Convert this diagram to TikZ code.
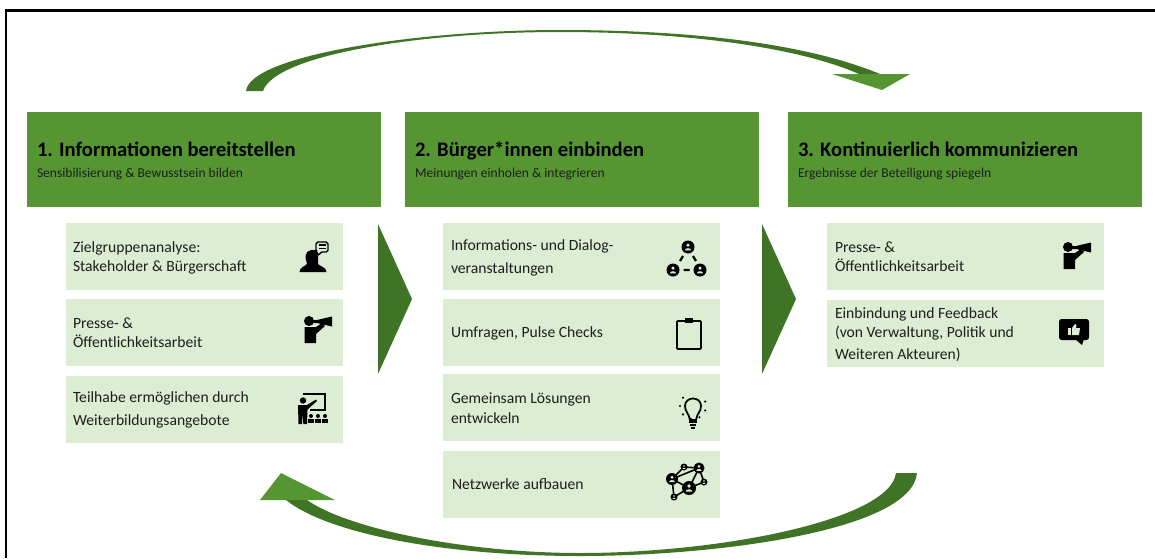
\documentclass[tikz,border=0pt]{standalone}
\usepackage{fontspec}
\setmainfont{Carlito}
\definecolor{headgreen}{HTML}{559632}
\definecolor{darkgreen}{HTML}{3F7326}
\definecolor{lightgreen}{HTML}{DCEDD3}
\definecolor{inktext}{HTML}{1E1E1E}
\tikzset{
  every node/.style={inner sep=0pt,outer sep=0pt},
  headbox/.style={fill=headgreen,minimum width=7.08cm,minimum height=1.9cm,anchor=north west},
  itembox/.style={fill=lightgreen,minimum width=5.54cm,minimum height=1.34cm,anchor=north west},
  headtext/.style={anchor=base west,font=\fontsize{11.75}{14}\selectfont\bfseries,text=black},
  subtext/.style={anchor=base west,font=\fontsize{7.7}{9}\selectfont,text=inktext},
  itemtext/.style={anchor=base west,font=\fontsize{8.9}{10}\selectfont,text=inktext},
  iconline/.style={draw=black,fill=none,line width=0.8pt},
  pics/megaphone/.style={code={
    \fill (0,0) circle (5);
    \fill (-4.5,6) -- (7,6) -- (13,2) -- (16,5) -- (7,13) -- (7,22) -- (-4.5,22) -- cycle;
    \fill (4,-1) -- (8,-1) -- (23,-4.5) -- (23,5.5) -- (8,2) -- (4,2) -- cycle;
  }},
  pics/member/.style={code={
    \fill (0,0) circle (#1);
    \fill[lightgreen] (0,-0.28*#1) circle (0.27*#1);
    \fill[lightgreen] (-0.48*#1,0.5*#1) .. controls (-0.45*#1,0.08*#1) and (0.45*#1,0.08*#1) .. (0.48*#1,0.5*#1) -- cycle;
  }}
}
\begin{document}
\begin{tikzpicture}[x=0.02cm,y=-0.02cm]
\useasboundingbox (0,0) rectangle (1155,558);
\draw[line width=1.5pt] (6,558) -- (6,10.5) -- (1155,10.5);
\node[headbox] (h1) at (27,112) {};
\node[headbox] (h2) at (405,112) {};
\node[headbox] (h3) at (788,112) {};
\node[headtext] (t1) at (37,156.5) {1. Informationen bereitstellen};
\node[headtext] (t2) at (415,156.5) {2. Bürger*innen einbinden};
\node[headtext] (t3) at (798,156.5) {3. Kontinuierlich kommunizieren};
\node[subtext] (s1) at (37,177) {Sensibilisierung \& Bewusstsein bilden};
\node[subtext] (s2) at (415,177) {Meinungen einholen \& integrieren};
\node[subtext] (s3) at (798,177) {Ergebnisse der Beteiligung spiegeln};
\node[itembox] (a1) at (66,223) {};
\node[itembox] (a2) at (66,299) {};
\node[itembox] (a3) at (66,376) {};
\node[itembox] (b1) at (443,223) {};
\node[itembox] (b2) at (443,299) {};
\node[itembox] (b3) at (443,374) {};
\node[itembox] (b4) at (443,451) {};
\node[itembox] (c1) at (827,223) {};
\node[itembox] (c2) at (827,300) {};
\node[itemtext] (a11) at (73,252) {Zielgruppenanalyse:};
\node[itemtext] (a12) at (73,271) {Stakeholder \& Bürgerschaft};
\node[itemtext] (a21) at (73,328) {Presse- \&};
\node[itemtext] (a22) at (73,347) {Öffentlichkeitsarbeit};
\node[itemtext] (a31) at (73,402) {Teilhabe ermöglichen durch};
\node[itemtext] (a32) at (73,425) {Weiterbildungsangebote};
\node[itemtext] (b11) at (451,250) {Informations- und Dialog-};
\node[itemtext] (b12) at (451,273) {veranstaltungen};
\node[itemtext] (b21) at (451,337) {Umfragen, Pulse Checks};
\node[itemtext] (b31) at (451,403) {Gemeinsam Lösungen};
\node[itemtext] (b32) at (451,423) {entwickeln};
\node[itemtext] (b41) at (452,489) {Netzwerke aufbauen};
\node[itemtext] (c11) at (835,252) {Presse- \&};
\node[itemtext] (c12) at (835,271) {Öffentlichkeitsarbeit};
\node[itemtext] (c21) at (835,318) {Einbindung und Feedback};
\node[itemtext] (c22) at (835,337) {(von Verwaltung, Politik und};
\node[itemtext] (c23) at (835,359) {Weiteren Akteuren)};
\fill[darkgreen] (378,224) -- (412,299) -- (378,374) -- cycle;
\fill[darkgreen] (762,224) -- (796,299) -- (762,374) -- cycle;
\coordinate (ta) at (246,91);
\coordinate (tb) at (263,91);
\coordinate (tc) at (880,74);
\coordinate (td) at (859,74);
\fill[darkgreen] (ta) .. controls (250,55) and (420,30) .. (560,30) .. controls (700,30) and (810,45) .. (tc)
  -- (td) .. controls (800,48) and (690,32) .. (560,32) .. controls (420,32) and (275,55) .. (tb) -- cycle;
\fill[headgreen] (832,74) -- (910,74) -- (882,90) -- cycle;
\coordinate (ba) at (917,473);
\coordinate (bb) at (896,473);
\coordinate (bc) at (286,500);
\coordinate (bd) at (307,500);
\fill[darkgreen] (ba) .. controls (912,530) and (720,556) .. (580,556) .. controls (450,556) and (330,535) .. (bc)
  -- (bd) .. controls (350,530) and (470,553) .. (580,553) .. controls (720,553) and (890,520) .. (bb) -- cycle;
\fill[headgreen] (281,473) -- (260,500) -- (335,500) -- cycle;
% speaker
\fill (311,250) .. controls (305,251) and (305,258) .. (306,260) -- (307,264) .. controls (304,267) and (300,267) .. (299.5,272) -- (326.5,272) .. controls (326,267) and (321,267) .. (318,264) -- (318,250) -- cycle;
\draw[iconline,fill=lightgreen,rounded corners=1pt] (316,242) rectangle (328,252);
\fill[lightgreen] (317,251) -- (322,251) -- (318,256) -- cycle;
\draw[iconline] (317,252) -- (318,255) -- (322,252);
\draw[line width=0.6pt] (318.5,245) -- (325.5,245) (318.5,248.5) -- (325.5,248.5);
\pic at (309,321) {megaphone};
\pic at (1068,247) {megaphone};
% teacher
\draw[iconline] (303,394) -- (325,394) -- (325,410) -- (310,410);
\fill (303,400.5) circle (3.2);
\fill (298,405) -- (307,405) -- (316,399.5) -- (317,401) -- (307.5,409.5) -- (307,424) -- (303.3,424) -- (302.7,413) -- (302,424) -- (298.5,424) -- cycle;
\foreach \x in {311,318,325} {
  \fill (\x,416) circle (2);
  \fill (\x-3,423) -- (\x-3,419) -- (\x+3,419) -- (\x+3,423) -- cycle;
}
% dialog
\pic at (688,247) {member=6.5};
\pic at (673,270) {member=6.5};
\pic at (700,270) {member=6.5};
\draw[line width=1.3pt] (683,256) -- (680,261) (693,256) -- (696,261) (683.5,270) -- (689.5,270);
% clipboard
\draw[iconline,line width=1pt,rounded corners=0.5pt] (677,321) rectangle (701,349);
\fill (685,318) rectangle (693,323);
% bulb
\draw[iconline,line width=1pt] (690,420) .. controls (689,413) and (685,412) .. (685,406) .. controls (685,396) and (701,396) .. (701,406) .. controls (701,412) and (697,413) .. (696,420) -- cycle;
\fill (689,421) rectangle (697,423);
\fill (690,424) rectangle (696,426);
\fill (691,427) rectangle (695,429);
\foreach \a in {-20,20,60,100,140,180,220}
  \fill (693,406) ++(\a:13) circle (1.2);
% network
\draw[line width=0.9pt] (672,479) -- (684,467) -- (699,468) -- (704,482) -- (689,488) -- (672,479) -- (674,497) -- (689,488) -- (699,468) (672,479) -- (699,468);
\pic at (672,479) {member=6};
\pic at (684,467) {member=3.5};
\pic at (699,468) {member=5.5};
\pic at (704,482) {member=3.5};
\pic at (689,488) {member=7};
\pic at (674,497) {member=3.5};
% thumb bubble
\fill[rounded corners=1.5pt] (1059,319) rectangle (1089,340);
\fill (1075,339) -- (1084,339) -- (1082,345) -- cycle;
\fill[lightgreen] (1068,328) rectangle (1071,335);
\fill[lightgreen] (1072,328) -- (1075,324) -- (1076.5,325) -- (1076,328) -- (1080,328) -- (1079,335) -- (1072,335) -- cycle;
\end{tikzpicture}
\end{document}
